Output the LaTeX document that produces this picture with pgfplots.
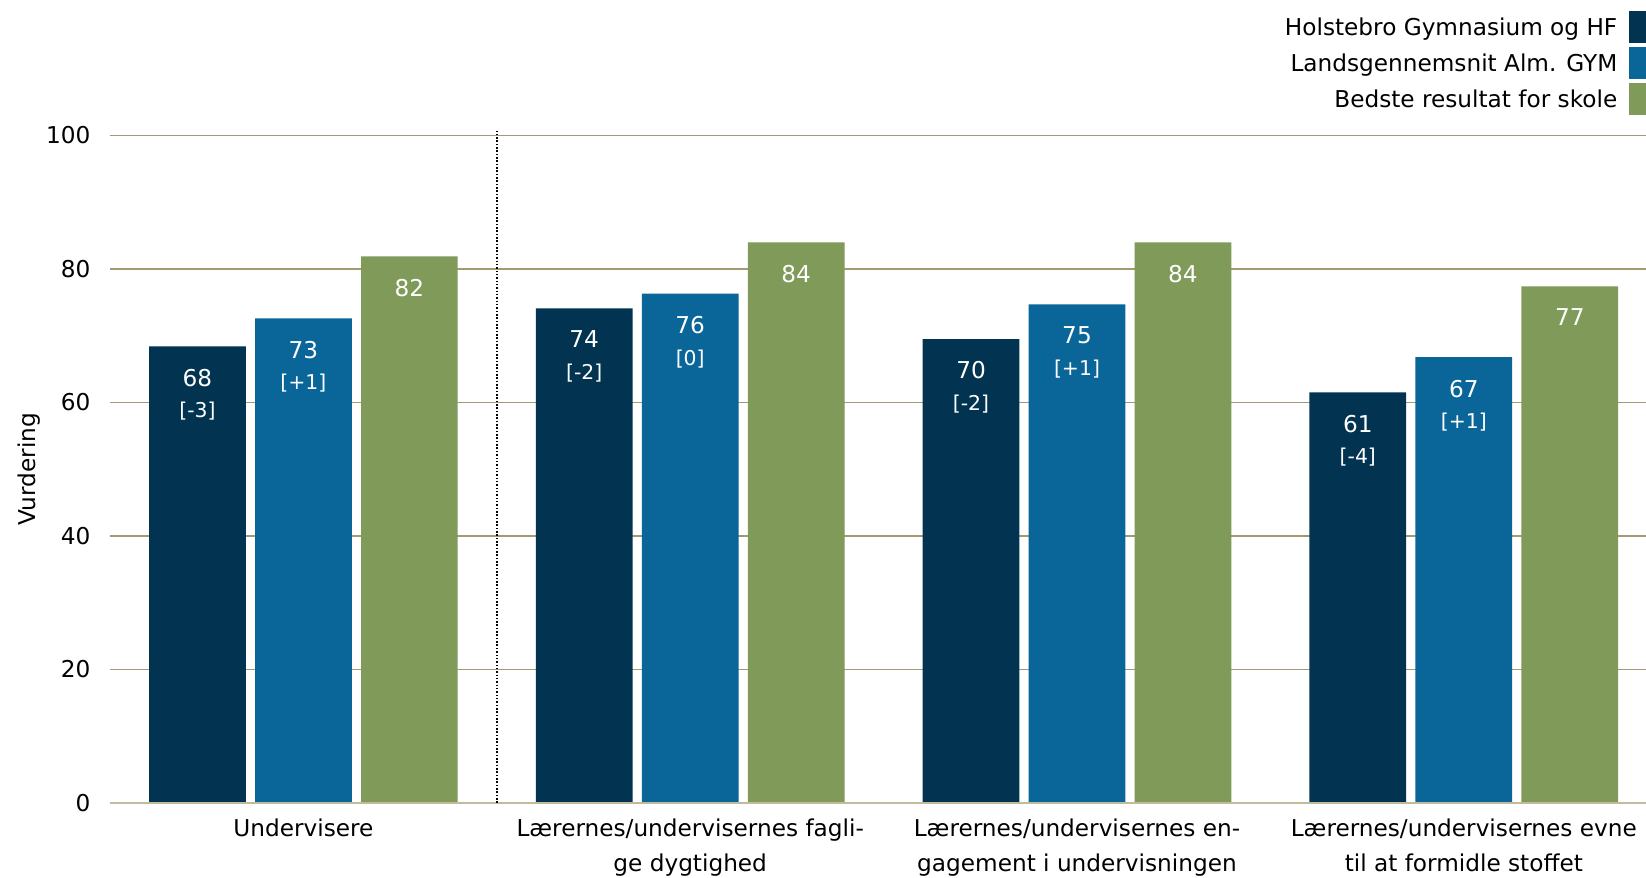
\documentclass[border=0pt]{standalone}
\usepackage{pgfplots}
\pgfplotsset{compat=1.18}
\usepackage{fontspec}
\setmainfont{DejaVu Sans}
\definecolor{c1}{HTML}{023452}
\definecolor{c2}{HTML}{0A6699}
\definecolor{c3}{HTML}{7F9A59}
\definecolor{gridc}{HTML}{A39A72}
\definecolor{basec}{HTML}{C2BA9C}
\newcommand\brk[1]{{\fontsize{5.8}{8.96}\selectfont\lbrack#1\rbrack}}
\newcommand\tf{\fontsize{6.6}{9.96}\selectfont}
\newcommand\vf{\fontsize{6.6}{8.96}\selectfont}
\begin{document}
\begin{tikzpicture}
\useasboundingbox[fill=white] (-1.10cm,-0.75cm) rectangle (15.36cm,8.03cm);
\begin{axis}[
  at={(0,0)}, anchor=south west,
  scale only axis, width=15.362cm, height=6.675cm,
  xmin=-0.5, xmax=3.4716, ymin=0, ymax=100,
  ybar, bar width=0.25,
  every node near coord/.append style={anchor=north, yshift=-0.22cm, inner sep=0pt, align=center, text=white, font=\vf},
  point meta=explicit symbolic,
  axis line style={draw=none},
  major tick length=0pt,
  ytick={0,20,40,60,80,100},
  ymajorgrids, grid style={gridc, line width=0.45pt},
  xtick={0,1,2,3},
  xticklabels={Undervisere,{Lærernes/undervisernes fagli-\\ge dygtighed},{Lærernes/undervisernes en-\\gagement i undervisningen},{Lærernes/undervisernes evne\\til at formidle stoffet}},
  xticklabel style={anchor=north, inner sep=0pt, yshift=-0.155cm, align=center, font=\tf},
  yticklabel style={anchor=east, inner sep=0pt, xshift=-0.19cm, font=\tf},
  /pgf/number format/assume math mode=true,
  ylabel={Vurdering},
  ylabel style={at={(axis description cs:-0.0527,0.5)}, anchor=center, inner sep=0pt, font=\tf},
  clip=false,
  legend style={at={(axis description cs:1.002,1.1865)}, anchor=north east, draw=none, fill=none, inner sep=0pt, outer sep=0pt, row sep=0.04cm, column sep=0.12cm, nodes={inner sep=0pt, text height=0.17cm, text depth=0cm, font=\tf}},
  legend plot pos=right,
  legend cell align=right,
  myleg/.style={legend image code/.code={\fill (0cm,-0.16cm) rectangle (0.2cm,0.16cm);}},
]
\addplot[fill=c1, draw=none, bar shift=-0.274, nodes near coords, myleg] coordinates {
  (0,68.4) [68\\\brk{-3}]
  (1,74.1) [74\\\brk{-2}]
  (2,69.5) [70\\\brk{-2}]
  (3,61.5) [61\\\brk{-4}]
};
\addlegendentry{Holstebro Gymnasium og HF}
\addplot[fill=c2, draw=none, bar shift=0, nodes near coords, myleg] coordinates {
  (0,72.6) [73\\\brk{+1}]
  (1,76.3) [76\\\brk{0}]
  (2,74.7) [75\\\brk{+1}]
  (3,66.8) [67\\\brk{+1}]
};
\addlegendentry{Landsgennemsnit Alm. GYM}
\addplot[fill=c3, draw=none, bar shift=0.274, nodes near coords, myleg] coordinates {
  (0,81.9) [82]
  (1,84.0) [84]
  (2,84.0) [84]
  (3,77.4) [77]
};
\addlegendentry{Bedste resultat for skole}
\draw[basec, line width=0.6pt] (axis cs:-0.5,0) -- (axis cs:3.4716,0);
\draw[black, line width=0.5pt, dash pattern=on 0.45pt off 0.5pt] (axis cs:0.5,0) -- (axis cs:0.5,100.7);
\end{axis}
\end{tikzpicture}
\end{document}
